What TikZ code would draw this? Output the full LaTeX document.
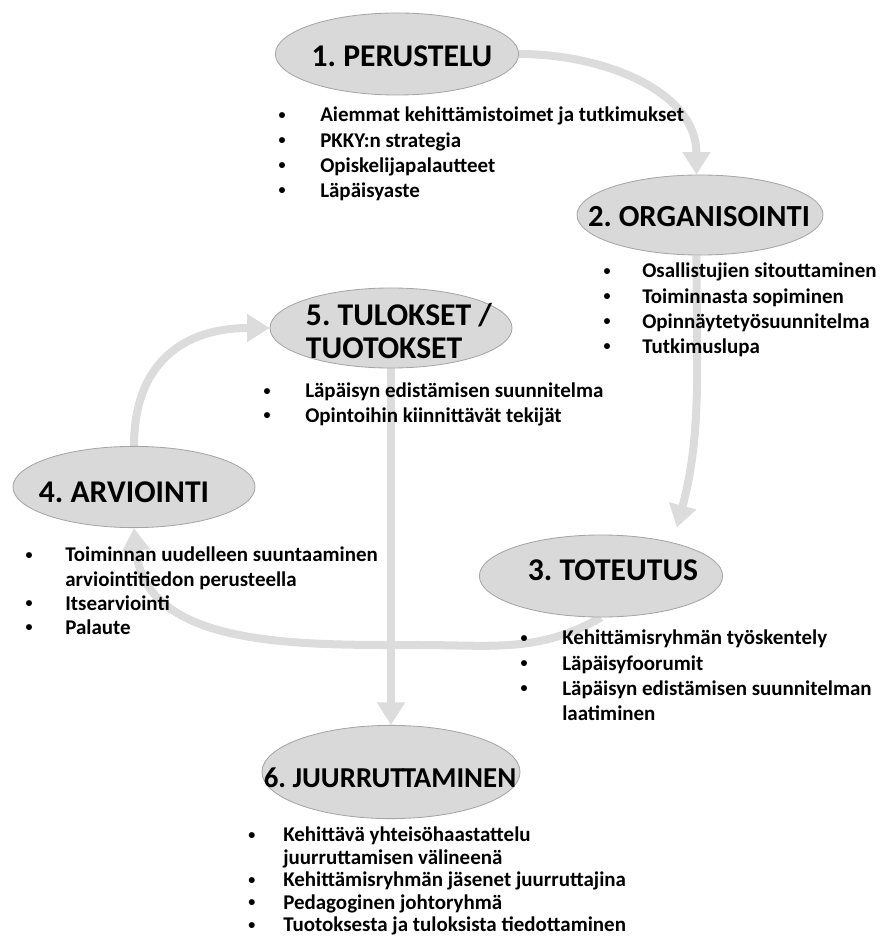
\documentclass[tikz,border=0pt]{standalone}
\usepackage{fontspec}
\setmainfont{Carlito}
\usetikzlibrary{arrows.meta,shapes.geometric}
\definecolor{phasefill}{HTML}{D9D9D9}
\definecolor{phaseline}{HTML}{A6A6A6}
\definecolor{flow}{HTML}{DCDCDC}
\tikzset{>={Triangle[width=19pt,length=16pt]}}
\tikzset{
  phase/.style={ellipse,draw=phaseline,fill=phasefill,line width=.6pt,inner sep=0pt},
  phasetext/.style={font=\bfseries\fontsize{22.5pt}{24pt}\selectfont,align=left,inner sep=0pt},
  list/.style={font=\bfseries\fontsize{14.9pt}{#1}\selectfont,align=left,anchor=north west,inner sep=0pt},
  list/.default=17.8pt,
  flowline/.style={draw=flow,line width=5.7pt,->}
}
\newcommand{\itm}[1][24.7pt]{\llap{\raisebox{2pt}{\fontsize{10pt}{10pt}\selectfont\textbullet}\hspace{#1}}}
\pgfdeclarelayer{bg}
\pgfsetlayers{bg,main}
\frenchspacing

\begin{document}
\begin{tikzpicture}[x=0.025cm,y=0.025cm]
\useasboundingbox (0,0) rectangle (880,-951);
% phases
\node[phase,minimum width=6.08cm,minimum height=2.05cm] (p1) at (397,-54) {};
\node[phase,minimum width=6.15cm,minimum height=2cm] (p2) at (700,-215) {};
\node[phase,minimum width=6.08cm,minimum height=2.05cm] (p3) at (601,-576) {};
\node[phase,minimum width=6.05cm,minimum height=2.03cm] (p4) at (134,-487) {};
\node[phase,minimum width=6.05cm,minimum height=2cm] (p5) at (391,-328) {};
\node[phase,minimum width=6.45cm,minimum height=2.33cm] (p6) at (391,-772) {};
\node[phasetext] (t1) at (402,-56) {1. PERUSTELU};
\node[phasetext,font=\bfseries\fontsize{21.8pt}{24pt}\selectfont] (t2) at (699,-217)
  {2. ORGANISOINTI};
\node[phasetext] (t3) at (613,-570) {3. TOTEUTUS};
\node[phasetext] (t4) at (124,-492) {4. ARVIOINTI};
\node[phasetext] (t5) at (399,-331) {5. TULOKSET /\\TUOTOKSET};
\node[phasetext,font=\bfseries\fontsize{20.5pt}{22pt}\selectfont] (t6) at (390,-778)
  {6. JUURRUT\kern-2ptTAMINEN};
% flow
\begin{pgfonlayer}{bg}
\draw[flowline] (p1.east) to[out=0,in=90] (p2.95);
\draw[flowline,shorten >=11pt] (p2.265) to[out=-90,in=75] (p3.25);
\coordinate (c34) at (420,-645);
\draw[flowline] (p3.south) to[out=-150,in=0] (c34) to[out=180,in=-85] (p4.south);
\draw[flowline] (p4.north) to[out=90,in=180,looseness=1.2] (p5.west);
\draw[flowline] (p5.south) -- (p6.north);
\end{pgfonlayer}
% lists
\node[list] (l1) at (320,-107) {\itm Aiemmat kehittämistoimet ja tutkimukset\\
  \itm PKKY:n strategia\\ \itm Opiskelijapalautteet\\ \itm Läpäisyaste};
\node[list] (l2) at (642,-263) {\itm[22.6pt]Osallistujien sitouttaminen\\
  \itm[22.6pt]Toiminnasta sopiminen\\ \itm[22.6pt]Opinnäytetyösuunnitelma\\
  \itm[22.6pt]Tutkimuslupa};
\node[list=17.1pt] (l5) at (305,-383) {\itm Läpäisyn edistämisen suunnitelma\\
  \itm Opintoihin kiinnittävät tekijät};
\node[list=17.1pt] (l4) at (65,-547) {\itm[23.3pt]Toiminnan uudelleen suuntaaminen\\
  arviointitiedon perusteella\\ \itm[23.3pt]Itsearviointi\\ \itm[23.3pt]Palaute};
\node[list] (l3) at (562,-630) {\itm Kehittämisryhmän työskentely\\
  \itm Läpäisyfoorumit\\ \itm Läpäisyn edistämisen suunnitelman\\ laatiminen};
\node[list=16pt] (l6) at (283,-827) {\itm[19.8pt]Kehittävä yhteisöhaastattelu\\
  juurruttamisen välineenä\\ \itm[19.8pt]Kehittämisryhmän jäsenet juurruttajina\\
  \itm[19.8pt]Pedagoginen johtoryhmä\\ \itm[19.8pt]Tuotoksesta ja tuloksista tiedottaminen};
\end{tikzpicture}
\end{document}
